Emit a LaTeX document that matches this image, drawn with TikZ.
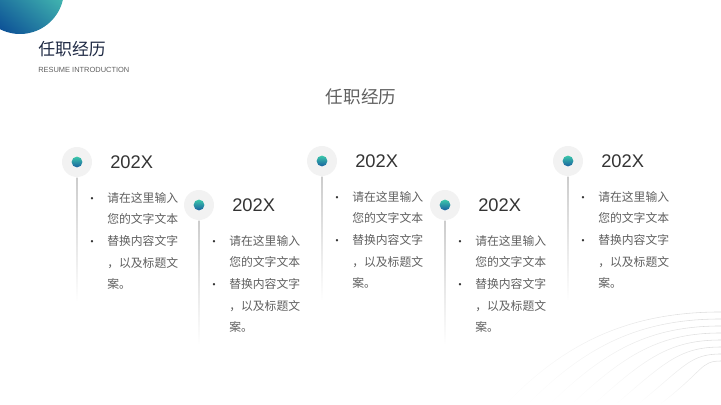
\documentclass[tikz,border=0pt]{standalone}
\usepackage{fontspec}
\setmainfont{Liberation Sans}
\newfontfamily\cjk{Noto Sans CJK SC}
\usetikzlibrary{fadings}
\definecolor{navy}{RGB}{31, 42, 68}
\definecolor{mteal}{RGB}{60, 200, 170}
\definecolor{mblue}{RGB}{25, 95, 160}
\definecolor{mdeep}{RGB}{12, 80, 150}
\definecolor{mmint}{RGB}{85, 218, 185}
\definecolor{mgray}{RGB}{95, 95, 95}
\tikzset{ring/.style = {circle, fill = gray!10, inner sep = 0, minimum size = 0.75cm},
  dot/.style = {circle, top color = mteal, bottom color = mblue, inner sep = 0, minimum size = 0.27cm},
  year/.style = {anchor = west, inner sep = 0, text = black!80, font = \fontsize{13}{13}\selectfont},
  body/.style = {anchor = north west, inner sep = 0, align = left, text = mgray,
    font = \cjk\fontsize{8.4}{15.4}\selectfont},
  blt/.style = {inner sep = 0, text = black!80, font = \fontsize{6}{6}\selectfont}}

\begin{document}
\begin{tikzpicture}[x = 0.025cm, y = -0.025cm]
    \useasboundingbox (0, 0) rectangle (721, 405);
    % corner
    \begin{scope}
      \clip (0, 0) rectangle (721, 405);
      \shade [left color = mdeep, right color = mmint, shading angle = 140] (20, -10) circle (44);
    \end{scope}
    \node [anchor = west, inner sep = 0, text = navy, font = \cjk\fontsize{12}{12}\selectfont] (head) at (38, 49) {任职经历};
    \node [anchor = west, inner sep = 0, text = mgray, font = \fontsize{5.3}{5.3}\selectfont] (sub) at (38, 70) {RESUME INTRODUCTION};
    \node [inner sep = 0, text = mgray, font = \cjk\fontsize{12.5}{12.5}\selectfont] (title) at (361, 97) {任职经历};

    % wave lines
    \foreach \k in {0, ..., 7}
      \draw [gray!30, line width = 0.4pt, path fading = west]
        ({505 + 22*\k}, 405) .. controls ({565 + 20*\k}, {342 + 4*\k}) and ({630 + 10*\k}, {312 + 7*\k}) .. (721, {312 + 7*\k});

    % timeline
    \foreach \i/\x/\y in {1/77/162, 2/199/205, 3/322/161, 4/445/205, 5/568/161} {
      \node [ring] (ring\i) at (\x, \y) {};
      \node [dot] (dot\i) at (ring\i) {};
      \node [year] (year\i) at (\x + 33, \y) {202X};
      \coordinate (end\i) at (\x, \y + 140);
      \shade [top color = gray!40, bottom color = white] ([xshift = -0.3pt] ring\i.south) rectangle ([xshift = 0.3pt] end\i);
      \node [body] (txt\i) at (\x + 30, \y + 30) {请在这里输入\\您的文字文本\\替换内容文字\\，以及标题文\\案。};
      \node [blt] (b\i a) at (\x + 15, \y + 38) {\textbullet};
      \node [blt] (b\i b) at (\x + 15, \y + 81) {\textbullet};
    }
  \end{tikzpicture}
\end{document}
